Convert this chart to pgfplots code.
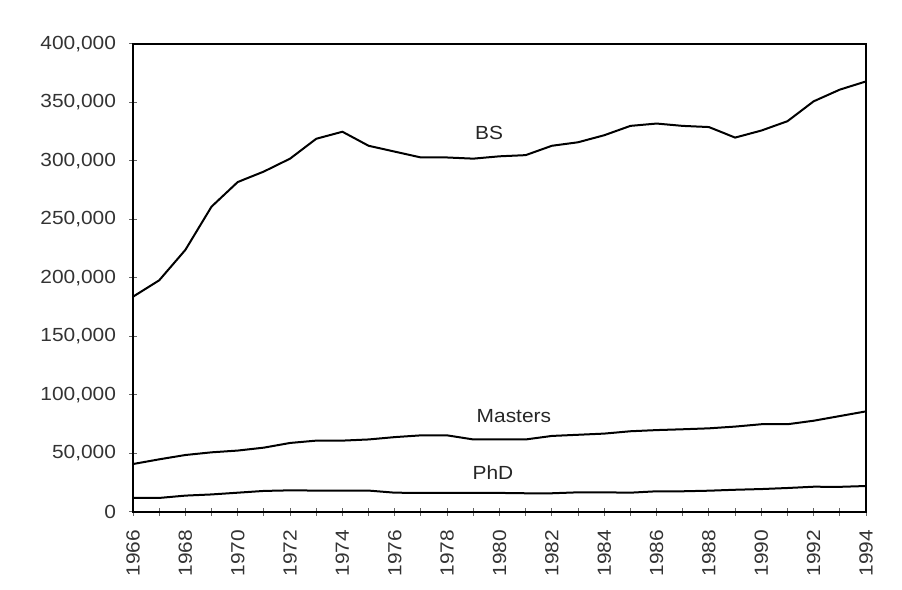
\documentclass[border=0pt]{standalone}
\usepackage{fontspec}
\setmainfont{Liberation Sans}[FakeStretch=1.1]
\usepackage{pgfplots}
\pgfplotsset{compat=1.18}
\begin{document}
\begin{tikzpicture}
\begin{axis}[
  scale only axis=true,
  width=366.5pt, height=234pt,
  xmin=1966, xmax=1994, ymin=0, ymax=400000,
  xtick={1966,1968,1970,1972,1974,1976,1978,1980,1982,1984,1986,1988,1990,1992,1994},
  xticklabels={1966,1968,1970,1972,1974,1976,1978,1980,1982,1984,1986,1988,1990,1992,1994},
  minor x tick num=1,
  ytick={0,50000,100000,150000,200000,250000,300000,350000,400000},
  yticklabels={0,{50,000},{100,000},{150,000},{200,000},{250,000},{300,000},{350,000},{400,000}},
  xtick pos=bottom, ytick pos=left,
  tick align=center,
  major tick length=4pt, minor tick length=4pt,
  tick style={black!60, line width=0.5pt},
  axis line style={line width=1.2pt},
  scaled y ticks=false,
  xticklabel shift=3.5pt,
  xticklabel style={rotate=90, anchor=east, font=\fontsize{9.5}{11}\selectfont, text=black!80},
  yticklabel style={font=\fontsize{9.5}{11}\selectfont, text=black!80, xshift=-3pt},
]
\addplot[black, line width=1pt, no marks] coordinates {
(1966,184000)(1967,198000)(1968,224000)(1969,261000)(1970,282000)(1971,291000)
(1972,302000)(1973,319000)(1974,325000)(1975,313000)(1976,308000)(1977,303000)
(1978,303000)(1979,302000)(1980,304000)(1981,305000)(1982,313000)(1983,316000)
(1984,322000)(1985,330000)(1986,332000)(1987,330000)(1988,329000)(1989,320000)
(1990,326000)(1991,334000)(1992,351000)(1993,361000)(1994,368000)};
\addplot[black, line width=1pt, no marks] coordinates {
(1966,41000)(1967,45000)(1968,48700)(1969,51000)(1970,52500)(1971,55000)
(1972,59000)(1973,61000)(1974,61000)(1975,62000)(1976,64000)(1977,65500)
(1978,65500)(1979,62000)(1980,62000)(1981,62000)(1982,65000)(1983,66000)
(1984,67000)(1985,69000)(1986,70000)(1987,70700)(1988,71500)(1989,73000)
(1990,75000)(1991,75000)(1992,78000)(1993,82000)(1994,86000)};
\addplot[black, line width=1pt, no marks] coordinates {
(1966,12000)(1967,12000)(1968,14000)(1969,15000)(1970,16500)(1971,18000)
(1972,18500)(1973,18300)(1974,18300)(1975,18300)(1976,16500)(1977,16300)
(1978,16300)(1979,16300)(1980,16300)(1981,16000)(1982,16000)(1983,16800)
(1984,16800)(1985,16500)(1986,17700)(1987,17700)(1988,18200)(1989,19000)
(1990,19600)(1991,20500)(1992,21600)(1993,21500)(1994,22200)};
\node[font=\fontsize{9.5}{11}\selectfont, text=black!85] at (axis cs:1979.6,324000) {BS};
\node[font=\fontsize{9.5}{11}\selectfont, text=black!85] at (axis cs:1980.55,82000) {Masters};
\node[font=\fontsize{9.5}{11}\selectfont, text=black!85] at (axis cs:1979.75,34000) {PhD};
\end{axis}
\path ([xshift=-66.5pt,yshift=-39pt]current axis.south west) rectangle ([xshift=18pt,yshift=22pt]current axis.north east);
\end{tikzpicture}
\end{document}
